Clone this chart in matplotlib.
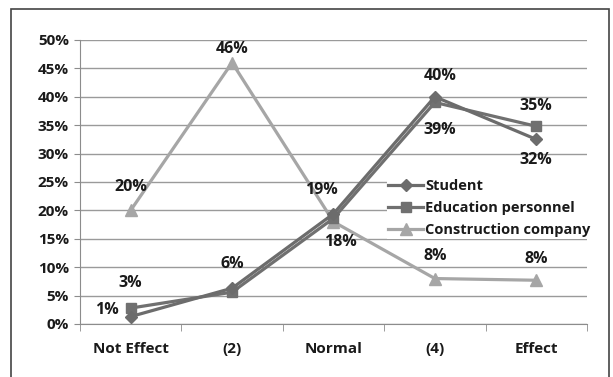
import matplotlib.pyplot as plt
from matplotlib.patches import Rectangle

categories = ['Not Effect', '(2)', 'Normal', '(4)', 'Effect']
student = [1.3, 6.3, 19.4, 40.0, 32.5]
education = [2.8, 5.6, 18.6, 39.0, 34.8]
construction = [20.0, 46.0, 18.0, 8.0, 7.7]

# labels shown on the chart: (series, category index, text, dx, dy in pixels)
labels = [
    (construction, 0, '20%', 0, 23),
    (construction, 1, '46%', 0, 14),
    (education, 0, '3%', 0, 25),
    (student, 0, '1%', -24, 7),
    (student, 1, '6%', 0, 24),
    (student, 2, '19%', -12, 24),
    (construction, 2, '18%', 7, -20),
    (student, 3, '40%', 5, 21),
    (education, 3, '39%', 5, -28),
    (education, 4, '35%', 0, 20),
    (student, 4, '32%', 0, -21),
    (construction, 3, '8%', 0, 23),
    (construction, 4, '8%', 0, 21),
]

plt.rcParams['font.family'] = ['Open Sans', 'DejaVu Sans']
plt.rcParams['font.weight'] = 'bold'

fig = plt.figure(figsize=(6.13, 3.77), dpi=100)
ax = fig.add_axes([0.1305, 0.1406, 0.827, 0.7535])

# outer chart border
fig.patches.append(Rectangle((11 / 613, -0.05), 598 / 613, 1.05 - 9 / 377,
                             transform=fig.transFigure, fill=False,
                             edgecolor='#444444', linewidth=1.2))

x = list(range(len(categories)))
ax.plot(x, student, color='#6c6c6c', lw=2.3, marker='D', ms=6.5, label='Student', zorder=4)
ax.plot(x, education, color='#707070', lw=2.3, marker='s', ms=7, label='Education personnel', zorder=3)
ax.plot(x, construction, color='#a6a6a6', lw=2.3, marker='^', ms=8, label='Construction company', zorder=2)

for series, i, txt, dx, dy in labels:
    ax.annotate(txt, (i, series[i]), xytext=(dx, dy), textcoords='offset pixels',
                ha='center', va='center', fontsize=11.5, fontweight='bold', color='#1a1a1a')

ax.set_xlim(-0.5, 4.5)
ax.set_ylim(0, 50)
ax.set_yticks(range(0, 51, 5))
ax.set_yticklabels([f'{v}%' for v in range(0, 51, 5)])
ax.set_xticks(x)
ax.set_xticklabels(categories)
ax.set_xticks([i - 0.5 for i in range(6)], minor=True)
ax.tick_params(axis='x', which='major', length=0, pad=13, labelsize=11, labelcolor='#1a1a1a')
ax.tick_params(axis='x', which='minor', length=5, color='#8c8c8c', direction='out')
ax.tick_params(axis='y', length=4, color='#8c8c8c', pad=4, labelsize=11, labelcolor='#1a1a1a')
ax.grid(axis='y', color='#9a9a9a', lw=1.0)
ax.set_axisbelow(True)
for s in ['top', 'right']:
    ax.spines[s].set_visible(False)
ax.spines['left'].set_color('#8c8c8c')
ax.spines['bottom'].set_color('#8c8c8c')

leg = ax.legend(loc='upper left', bbox_to_anchor=(0.605, 0.515), frameon=True, fancybox=False,
                edgecolor='none', framealpha=1, fontsize=10.5, handlelength=2.4,
                handletextpad=0.15, labelspacing=0.55, borderpad=0.1, borderaxespad=0)
for t in leg.get_texts():
    t.set_color('#1a1a1a')

fig.savefig('out.png', dpi=100)
